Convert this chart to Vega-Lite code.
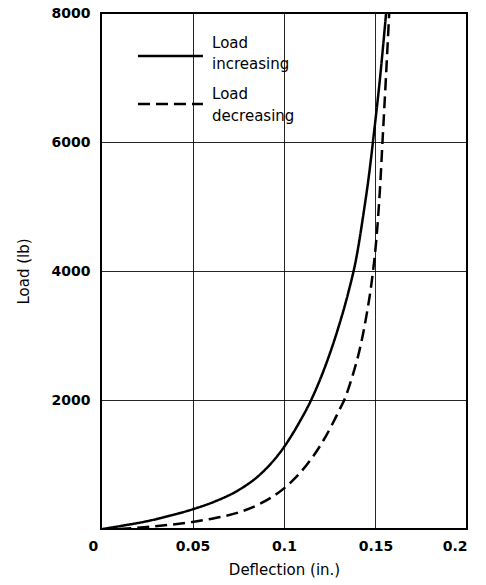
{
  "$schema": "https://vega.github.io/schema/vega-lite/v6.json",
  "width": 366,
  "height": 516,
  "autosize": {"type": "none"},
  "padding": {"left": 101, "top": 13, "right": 19, "bottom": 56},
  "background": "white",
  "config": {
    "view": {"stroke": "black", "strokeWidth": 2},
    "axis": {
      "labelFont": "DejaVu Sans",
      "titleFont": "DejaVu Sans",
      "labelColor": "black",
      "titleColor": "black",
      "labelFontSize": 14,
      "labelFontWeight": "bold",
      "titleFontSize": 15,
      "titleFontWeight": "normal",
      "ticks": false,
      "domain": false,
      "gridColor": "black",
      "gridOpacity": 0.85,
      "gridWidth": 1
    }
  },
  "layer": [
    {
      "data": {
        "values": [
          {"series": "increasing", "x": 0.001, "y": 0},
          {"series": "increasing", "x": 0.0125, "y": 55},
          {"series": "increasing", "x": 0.025, "y": 120},
          {"series": "increasing", "x": 0.0375, "y": 205},
          {"series": "increasing", "x": 0.05, "y": 305},
          {"series": "increasing", "x": 0.0625, "y": 430},
          {"series": "increasing", "x": 0.075, "y": 600},
          {"series": "increasing", "x": 0.0875, "y": 860},
          {"series": "increasing", "x": 0.1, "y": 1270},
          {"series": "increasing", "x": 0.1075, "y": 1610},
          {"series": "increasing", "x": 0.115, "y": 2010},
          {"series": "increasing", "x": 0.1225, "y": 2520},
          {"series": "increasing", "x": 0.13, "y": 3150},
          {"series": "increasing", "x": 0.135, "y": 3650},
          {"series": "increasing", "x": 0.1395, "y": 4200},
          {"series": "increasing", "x": 0.1435, "y": 4900},
          {"series": "increasing", "x": 0.1465, "y": 5500},
          {"series": "increasing", "x": 0.149, "y": 6100},
          {"series": "increasing", "x": 0.1525, "y": 7000},
          {"series": "increasing", "x": 0.1558, "y": 8000},
          {"series": "decreasing", "x": 0.01, "y": 0},
          {"series": "decreasing", "x": 0.025, "y": 30},
          {"series": "decreasing", "x": 0.0375, "y": 65},
          {"series": "decreasing", "x": 0.05, "y": 110},
          {"series": "decreasing", "x": 0.0625, "y": 170},
          {"series": "decreasing", "x": 0.075, "y": 255},
          {"series": "decreasing", "x": 0.0875, "y": 400},
          {"series": "decreasing", "x": 0.1, "y": 630},
          {"series": "decreasing", "x": 0.1075, "y": 830},
          {"series": "decreasing", "x": 0.115, "y": 1090},
          {"series": "decreasing", "x": 0.1225, "y": 1420},
          {"series": "decreasing", "x": 0.13, "y": 1830},
          {"series": "decreasing", "x": 0.1335, "y": 2040},
          {"series": "decreasing", "x": 0.1375, "y": 2380},
          {"series": "decreasing", "x": 0.1415, "y": 2800},
          {"series": "decreasing", "x": 0.145, "y": 3300},
          {"series": "decreasing", "x": 0.148, "y": 3850},
          {"series": "decreasing", "x": 0.1505, "y": 4500},
          {"series": "decreasing", "x": 0.1525, "y": 5300},
          {"series": "decreasing", "x": 0.154, "y": 6100},
          {"series": "decreasing", "x": 0.1557, "y": 7000},
          {"series": "decreasing", "x": 0.1575, "y": 8000}
        ]
      },
      "mark": {"type": "line", "color": "black", "strokeWidth": 2.5, "interpolate": "monotone", "clip": true},
      "encoding": {
        "x": {
          "field": "x", "type": "quantitative",
          "scale": {"domain": [0, 0.2], "nice": false},
          "axis": {
            "title": "Deflection (in.)",
            "values": [0, 0.05, 0.1, 0.15, 0.2],
            "format": "~g",
            "labelPadding": 10,
            "titlePadding": 9,
            "labelOffset": {"condition": {"test": "datum.value == 0", "value": -13}, "value": 0},
            "grid": true
          }
        },
        "y": {
          "field": "y", "type": "quantitative",
          "scale": {"domain": [0, 8000], "nice": false},
          "axis": {
            "title": "Load (lb)",
            "values": [2000, 4000, 6000, 8000],
            "format": "d",
            "labelPadding": 11,
            "titlePadding": 20,
            "grid": true
          }
        },
        "strokeDash": {
          "field": "series", "type": "nominal",
          "scale": {"domain": ["increasing", "decreasing"], "range": [[1, 0], [12, 6]]},
          "legend": null
        },
        "detail": {"field": "series"}
      }
    },
    {
      "data": {
        "values": [
          {"series": "increasing", "x1": 0.0202, "x2": 0.0557, "y": 7333},
          {"series": "decreasing", "x1": 0.0202, "x2": 0.0557, "y": 6589}
        ]
      },
      "mark": {"type": "rule", "color": "black", "strokeWidth": 2.5},
      "encoding": {
        "x": {"field": "x1", "type": "quantitative"},
        "x2": {"field": "x2"},
        "y": {"field": "y", "type": "quantitative"},
        "strokeDash": {
          "field": "series", "type": "nominal",
          "scale": {"domain": ["increasing", "decreasing"], "range": [[1, 0], [12, 6]]},
          "legend": null
        }
      }
    },
    {
      "data": {
        "values": [
          {"label": "Load", "x": 0.0607, "y": 7540},
          {"label": "increasing", "x": 0.0607, "y": 7209},
          {"label": "Load", "x": 0.0607, "y": 6740},
          {"label": "decreasing", "x": 0.0607, "y": 6403}
        ]
      },
      "mark": {"type": "text", "align": "left", "baseline": "middle", "font": "DejaVu Sans", "fontSize": 15, "color": "black"},
      "encoding": {
        "x": {"field": "x", "type": "quantitative"},
        "y": {"field": "y", "type": "quantitative"},
        "text": {"field": "label"}
      }
    }
  ]
}
